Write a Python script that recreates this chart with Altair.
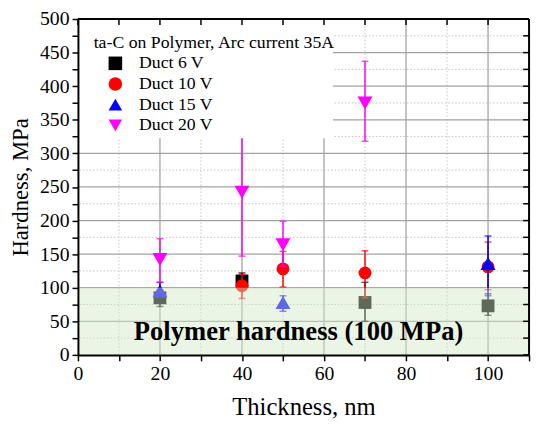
import altair as alt
import pandas as pd

FONT = "Liberation Serif"
W, H = 458, 341

series = ["Duct 6 V", "Duct 10 V", "Duct 15 V", "Duct 20 V"]
colors = ["#000000", "#ff0000", "#0000ff", "#ff00ff"]
shapes = ["square", "circle", "triangle-up", "triangle-down"]
sizes = [170, 170, 230, 230]

# Duct 6 V
x6 = [20, 40, 70, 100]
y6 = [85, 110, 78, 73]
lo6 = [72, 98, 50, 59]
hi6 = [97, 122, 108, 91]
# Duct 10 V
x10 = [40, 50, 70, 100]
y10 = [103, 128, 122, 131]
lo10 = [84, 101, 85, 97]
hi10 = [120, 154, 155, 168]
# Duct 15 V
x15 = [20, 50, 100]
y15 = [95, 78, 136]
lo15 = [86, 65, 88]
hi15 = [108, 88, 177]
# Duct 20 V
x20 = [20, 40, 50, 70]
y20 = [142, 242, 164, 375]
lo20 = [108, 147, 132, 318]
hi20 = [173, 340, 199, 437]

x_ticks = list(range(0, 111, 10))
y_ticks = list(range(0, 501, 25))
x_major = [20, 40, 60, 80, 100]
x_minor = [10, 30, 50, 70, 90]
y_major = [50, 100, 150, 200, 250, 300, 350, 400, 450]
y_minor = [25, 75, 125, 175, 225, 275, 325, 375, 425, 475]

legend_title = "ta-C on Polymer, Arc current 35A"
band_label = "Polymer hardness (100 MPa)"
band_top = 100

xscale = alt.Scale(domain=[0, 110], nice=False, zero=False)
yscale = alt.Scale(domain=[0, 500], nice=False, zero=False)

x_axis = alt.Axis(
    title="Thickness, nm", values=x_ticks, grid=False,
    labelExpr="datum.value % 20 == 0 ? datum.label : ''",
    labelFlush=False, labelOverlap=False,
    labelFont=FONT, labelFontSize=20, labelColor="black", labelPadding=3,
    titleFont=FONT, titleFontSize=25, titleFontWeight="normal", titleColor="black",
    titlePadding=12,
    domainColor="black", domainWidth=2, tickColor="black", tickWidth=1.5, tickSize=6,
    zindex=2,
)
y_axis = alt.Axis(
    title="Hardness, MPa", values=y_ticks, grid=False,
    labelExpr="datum.value % 50 == 0 ? datum.label : ''",
    labelFlush=False, labelOverlap=False,
    labelFont=FONT, labelFontSize=20, labelColor="black", labelPadding=3,
    titleFont=FONT, titleFontSize=23, titleFontWeight="normal", titleColor="black",
    titlePadding=7,
    domainColor="black", domainWidth=2, tickColor="black", tickWidth=1.5, tickSize=6,
    zindex=2,
)

def X(field):
    return alt.X(field, type="quantitative", scale=xscale, axis=x_axis)

def Y(field):
    return alt.Y(field, type="quantitative", scale=yscale, axis=y_axis)

layers = []

# grid
gx_major = pd.DataFrame({"gx": x_major})
gx_minor = pd.DataFrame({"gx": x_minor})
gy_major = pd.DataFrame({"gy": y_major})
gy_minor = pd.DataFrame({"gy": y_minor})
layers.append(alt.Chart(gx_minor).mark_rule(color="#c4c4c4", strokeWidth=1, strokeDash=[1.5, 2]).encode(x=X("gx")))
layers.append(alt.Chart(gy_minor).mark_rule(color="#c4c4c4", strokeWidth=1, strokeDash=[1.5, 2]).encode(y=Y("gy")))
layers.append(alt.Chart(gx_major).mark_rule(color="#a3a3a3", strokeWidth=1.3).encode(x=X("gx")))
layers.append(alt.Chart(gy_major).mark_rule(color="#a3a3a3", strokeWidth=1.3).encode(y=Y("gy")))

legend = alt.Legend(
    title=None, orient="none", legendX=29, legendY=36, padding=0,
    labelFont=FONT, labelFontSize=18, labelColor="black",
    symbolSize=190, symbolStrokeWidth=0, rowPadding=3, labelOffset=15,
    symbolOpacity=1, zindex=5,
)
color_enc = alt.Color("series:N", scale=alt.Scale(domain=series, range=colors), legend=legend)
shape_enc = alt.Shape("series:N", scale=alt.Scale(domain=series, range=shapes), legend=legend)

data_sets = [(x6, y6, lo6, hi6), (x10, y10, lo10, hi10), (x15, y15, lo15, hi15), (x20, y20, lo20, hi20)]
for name, c, sz, (xs, ys, los, his) in zip(series, colors, sizes, data_sets):
    d = pd.DataFrame({"series": name, "thickness": xs, "hardness": ys, "lo": los, "hi": his})
    base = alt.Chart(d)
    layers.append(base.mark_rule(strokeWidth=1.5, color=c).encode(x=X("thickness"), y=Y("lo"), y2="hi"))
    layers.append(base.mark_tick(orient="horizontal", size=7, thickness=1.5, color=c).encode(x=X("thickness"), y=Y("lo")))
    layers.append(base.mark_tick(orient="horizontal", size=7, thickness=1.5, color=c).encode(x=X("thickness"), y=Y("hi")))
    layers.append(base.mark_point(filled=True, opacity=1, size=sz).encode(
        x=X("thickness"), y=Y("hardness"), color=color_enc, shape=shape_enc))

# translucent polymer band on top of points
band = pd.DataFrame({"top": [band_top], "bottom": [0]})
layers.append(alt.Chart(band).mark_rect(color="#d3e9c6", opacity=0.45).encode(
    y=Y("bottom"), y2="top", x=alt.value(0), x2=alt.value(W)))

# white legend box
layers.append(alt.Chart(band).mark_rect(color="white").encode(
    x=alt.value(1), x2=alt.value(259), y=alt.value(1), y2=alt.value(121)))
layers.append(alt.Chart(band).mark_text(font=FONT, fontSize=18, align="left", baseline="middle", color="black").encode(
    x=alt.value(16), y=alt.value(24), text=alt.datum(legend_title)))

# band label
layers.append(alt.Chart(band).mark_text(font=FONT, fontSize=27, fontWeight="bold", align="center", baseline="middle", color="black").encode(
    x=alt.value(224), y=alt.value(318), text=alt.datum(band_label)))

# top / right frame and inward ticks
tx = pd.DataFrame({"tx": x_ticks})
ty = pd.DataFrame({"ty": y_ticks})
layers.append(alt.Chart(tx).mark_rule(color="black", strokeWidth=1.5).encode(
    x=X("tx"), y=alt.value(0), y2=alt.value(6)))
layers.append(alt.Chart(ty).mark_rule(color="black", strokeWidth=1.5).encode(
    y=Y("ty"), x=alt.value(W - 6), x2=alt.value(W)))
layers.append(alt.Chart(band).mark_rule(color="black", strokeWidth=2).encode(
    x=alt.value(0), x2=alt.value(W), y=alt.value(0)))
layers.append(alt.Chart(band).mark_rule(color="black", strokeWidth=2).encode(
    x=alt.value(W), y=alt.value(0), y2=alt.value(H)))

chart = alt.layer(*layers).properties(
    width=W, height=H,
    autosize=alt.AutoSizeParams(type="none"),
    padding={"left": 71, "top": 8, "right": 4, "bottom": 69},
    background="white",
).configure(font=FONT).configure_axis(
    labelFont=FONT, titleFont=FONT
).configure_legend(
    labelFont=FONT, titleFont=FONT
).configure_view(stroke=None)

chart.save("out.html", embed_options={"renderer": "svg", "actions": False})
